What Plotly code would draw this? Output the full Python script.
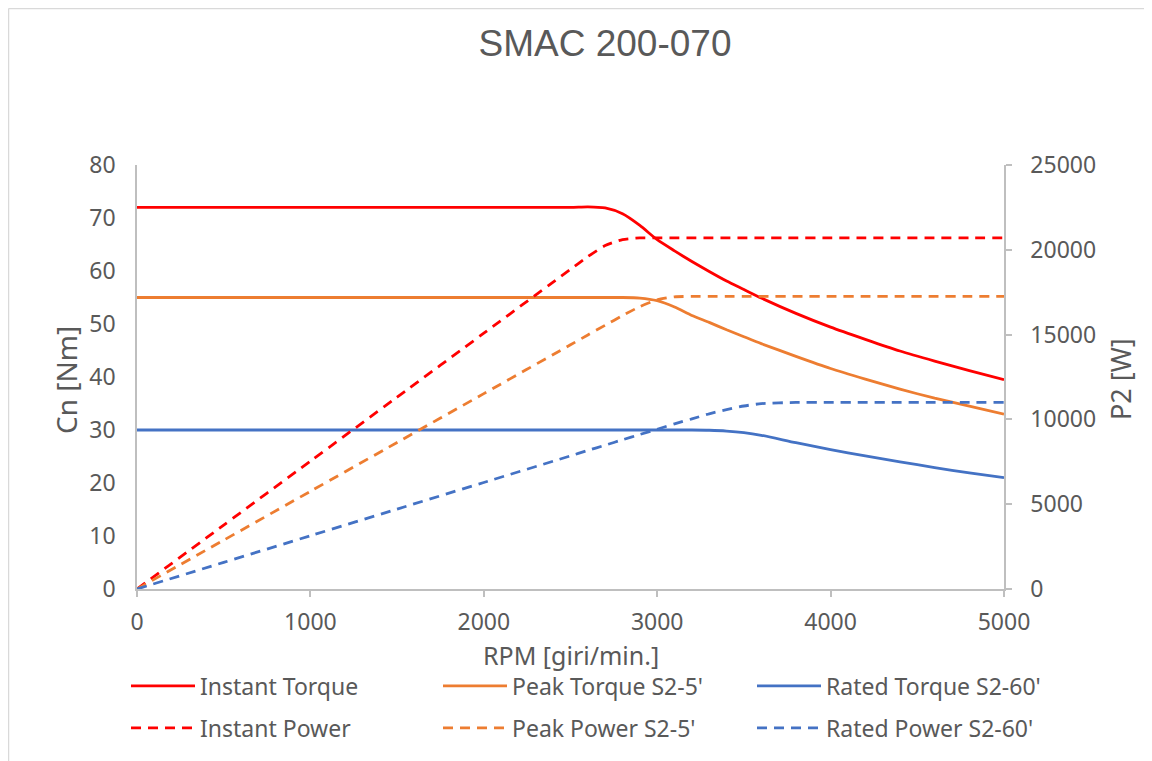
import plotly.graph_objects as go

# ---------------- data ----------------
rpm = [0, 500, 1000, 1500, 2000, 2500, 2600, 2700, 2800, 2900, 3000, 3100, 3200, 3300, 3400, 3500,
       3600, 3800, 4000, 4200, 4400, 4600, 4800, 5000]

instant_torque = [72, 72, 72, 72, 72, 72, 72.1, 71.9, 70.8, 68.6, 65.9, 63.8, 61.8, 59.9, 58.1, 56.5,
                  54.9, 52.0, 49.4, 47.1, 44.9, 43.0, 41.2, 39.5]
peak_torque = [55, 55, 55, 55, 55, 55, 55, 55, 55, 54.9, 54.4, 53.2, 51.6, 50.3, 48.9, 47.6,
               46.3, 43.9, 41.6, 39.6, 37.7, 36.0, 34.5, 33.0]
rated_torque = [30, 30, 30, 30, 30, 30, 30, 30, 30, 30, 30, 30, 30, 29.95, 29.8, 29.5,
                29.0, 27.6, 26.3, 25.1, 24.0, 22.9, 21.9, 21.0]

instant_power = [0, 3770, 7540, 11310, 15080, 18850, 19600, 20250, 20600, 20700, 20700, 20700, 20700,
                 20700, 20700, 20700, 20700, 20700, 20700, 20700, 20700, 20700, 20700, 20700]
peak_power = [0, 2880, 5760, 8640, 11520, 14400, 14980, 15550, 16120, 16650, 17050, 17230, 17250,
              17250, 17250, 17250, 17250, 17250, 17250, 17250, 17250, 17250, 17250, 17250]
rated_power = [0, 1570, 3140, 4710, 6280, 7850, 8170, 8480, 8800, 9110, 9420, 9740, 10030,
               10330, 10580, 10790, 10930, 11000, 11000, 11000, 11000, 11000, 11000, 11000]

x_ticks = [0, 1000, 2000, 3000, 4000, 5000]
y_ticks = [0, 10, 20, 30, 40, 50, 60, 70, 80]
y2_ticks = [0, 5000, 10000, 15000, 20000, 25000]

# ---------------- styles ----------------
RED = "#ff0000"
ORANGE = "#ed7d31"
BLUE = "#4472c4"
TXT = "#595959"
AX = "#bfbfbf"
FONT = "Noto Sans"
DASH = "10px,7px"

# page body has an 8px margin: work in figure coordinates
OFF = 8
W, H = 1152 - OFF, 761 - OFF
PL, PR, PT, PB = 137 - OFF, 1004 - OFF, 165 - OFF, 589 - OFF   # plot area in figure px
pw, ph = PR - PL, PB - PT

def px2x(px):
    return (px - OFF - PL) / pw

def px2y(py):
    return (PB - (py - OFF)) / ph

fig = go.Figure()

legend_pos = {}

def add(y, name, color, dash, axis, legend, lx, ly):
    fig.add_trace(go.Scatter(
        x=rpm, y=y, name=name, mode="lines", yaxis=axis, legend=legend,
        line=dict(color=color, width=2.8, dash=dash, shape="spline", smoothing=0.6),
        hoverinfo="x+y+name"))
    legend_pos[legend] = (lx, ly)

# legend text starts (absolute px) 200 / 512 / 826 ; rows at ~685 / 728
add(instant_torque, "Instant Torque", RED, "solid", "y", "legend", 200, 686)
add(peak_torque, "Peak Torque S2-5'", ORANGE, "solid", "y", "legend2", 512, 686)
add(rated_torque, "Rated Torque S2-60'", BLUE, "solid", "y", "legend3", 826, 686)
add(instant_power, "Instant Power", RED, DASH, "y2", "legend4", 200, 728)
add(peak_power, "Peak Power S2-5'", ORANGE, DASH, "y2", "legend5", 512, 728)
add(rated_power, "Rated Power S2-60'", BLUE, DASH, "y2", "legend6", 826, 728)

ITEMW = 64
legends = {}
for key, (lx, ly) in legend_pos.items():
    legends[key] = dict(
        x=px2x(lx - ITEMW - 10), y=px2y(ly), xanchor="left", yanchor="middle",
        orientation="h", font=dict(family=FONT, size=23, color=TXT),
        itemwidth=ITEMW,
        bgcolor="rgba(0,0,0,0)", borderwidth=0,
        itemclick=False, itemdoubleclick=False)

axis_title_font = dict(family=FONT, size=27, color=TXT)

fig.update_layout(
    width=W, height=H,
    margin=dict(l=PL, r=W - PR, t=PT, b=H - PB, autoexpand=False),
    paper_bgcolor="white", plot_bgcolor="white",
    font=dict(family=FONT, color=TXT, size=23),
    title=dict(text="SMAC 200-070", x=(605 - OFF) / W, xref="container", xanchor="center",
               y=1 - (43 - OFF) / H, yref="container", yanchor="middle",
               font=dict(family="Liberation Sans", size=37, color=TXT)),
    showlegend=True,
    xaxis=dict(range=[0, 5000], tickvals=x_ticks, showgrid=False, zeroline=False,
               showline=True, linecolor=AX, linewidth=1.5,
               ticks="outside", ticklen=6, tickcolor=AX, tickwidth=1.5,
               ticklabelstandoff=6,
               tickfont=dict(family=FONT, size=23, color=TXT)),
    yaxis=dict(range=[0, 80], tickvals=y_ticks, showgrid=False, zeroline=False,
               showline=True, linecolor=AX, linewidth=1.5, ticks="",
               ticklabelstandoff=15,
               tickfont=dict(family=FONT, size=23, color=TXT)),
    yaxis2=dict(range=[0, 25000], tickvals=y2_ticks, tickformat="d",
                overlaying="y", side="right",
                showgrid=False, zeroline=False,
                showline=True, linecolor=AX, linewidth=1.5,
                ticks="outside", ticklen=6, tickcolor=AX, tickwidth=1.5,
                ticklabelstandoff=14,
                tickfont=dict(family=FONT, size=23, color=TXT)),
    annotations=[
        dict(text="RPM [giri/min.]", xref="paper", yref="paper",
             x=px2x(571), y=px2y(655), xanchor="center", yanchor="middle",
             showarrow=False, font=dict(family=FONT, size=25, color=TXT)),
        dict(text="Cn [Nm]", xref="paper", yref="paper", textangle=-90,
             x=px2x(66), y=px2y(380), xanchor="center", yanchor="middle",
             showarrow=False, font=dict(family=FONT, size=28, color=TXT)),
        dict(text="P2 [W]", xref="paper", yref="paper", textangle=-90,
             x=px2x(1120), y=px2y(379), xanchor="center", yanchor="middle",
             showarrow=False, font=axis_title_font),
    ],
    shapes=[
        dict(type="line", xref="paper", yref="paper",
             x0=px2x(OFF + 0.5), x1=px2x(OFF + 0.5), y0=px2y(OFF + 0.5), y1=px2y(800),
             line=dict(color="#d9d9d9", width=1.5), layer="below"),
        dict(type="line", xref="paper", yref="paper",
             x0=px2x(OFF + 0.5), x1=px2x(1200), y0=px2y(OFF + 0.5), y1=px2y(OFF + 0.5),
             line=dict(color="#d9d9d9", width=1.5), layer="below"),
    ],
    **legends,
)

fig.write_html("out.html")
